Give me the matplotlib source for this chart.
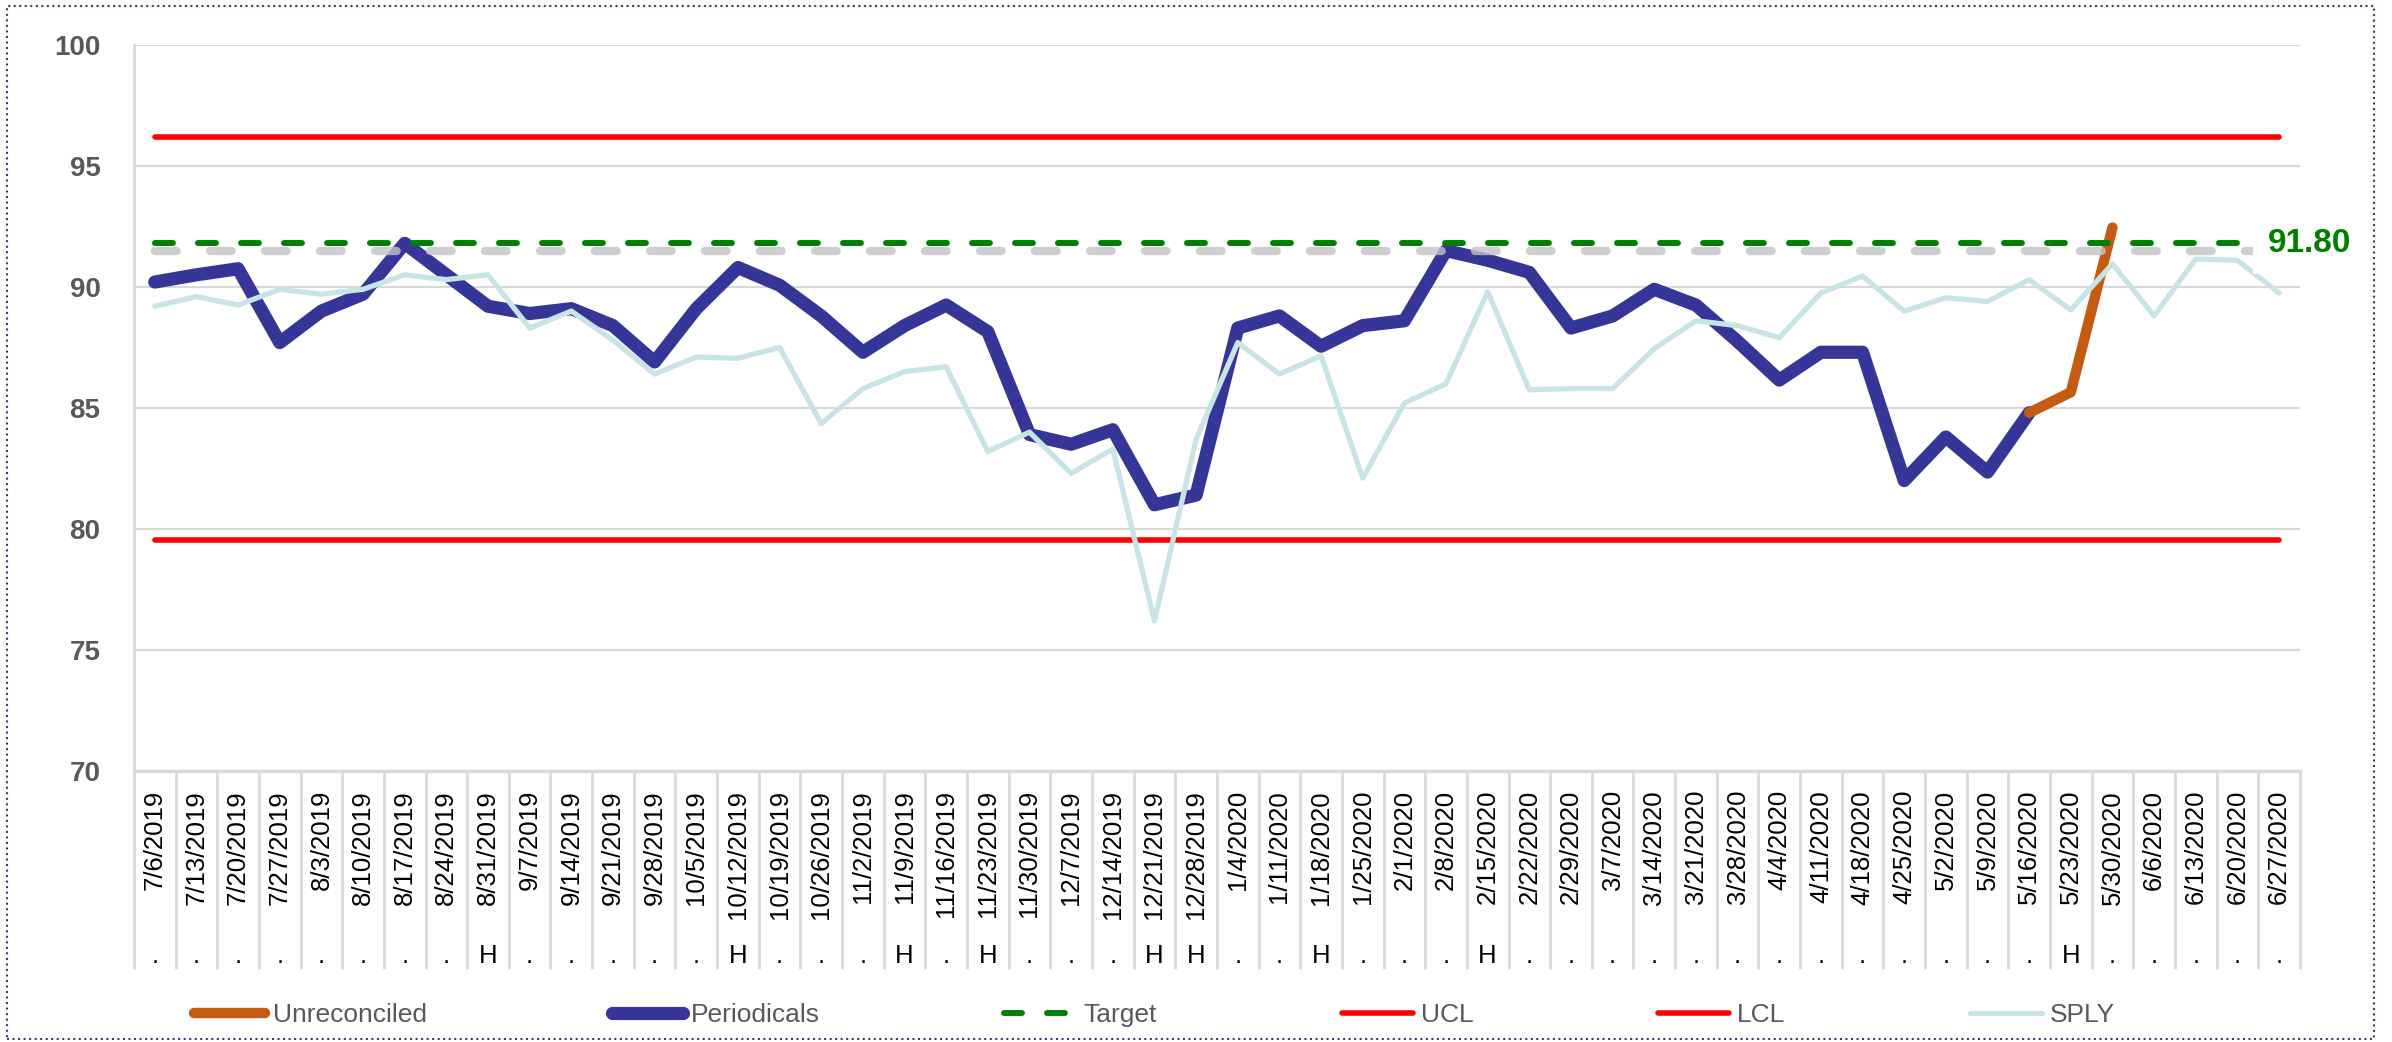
import matplotlib.pyplot as plt
import numpy as np
from matplotlib import transforms
from matplotlib.patches import Rectangle

weeks = ['7/6/2019', '7/13/2019', '7/20/2019', '7/27/2019', '8/3/2019', '8/10/2019',
         '8/17/2019', '8/24/2019', '8/31/2019', '9/7/2019', '9/14/2019', '9/21/2019',
         '9/28/2019', '10/5/2019', '10/12/2019', '10/19/2019', '10/26/2019', '11/2/2019',
         '11/9/2019', '11/16/2019', '11/23/2019', '11/30/2019', '12/7/2019', '12/14/2019',
         '12/21/2019', '12/28/2019', '1/4/2020', '1/11/2020', '1/18/2020', '1/25/2020',
         '2/1/2020', '2/8/2020', '2/15/2020', '2/22/2020', '2/29/2020', '3/7/2020',
         '3/14/2020', '3/21/2020', '3/28/2020', '4/4/2020', '4/11/2020', '4/18/2020',
         '4/25/2020', '5/2/2020', '5/9/2020', '5/16/2020', '5/23/2020', '5/30/2020',
         '6/6/2020', '6/13/2020', '6/20/2020', '6/27/2020']
flags = ['.', '.', '.', '.', '.', '.', '.', '.', 'H', '.', '.', '.', '.', '.', 'H', '.',
         '.', '.', 'H', '.', 'H', '.', '.', '.', 'H', 'H', '.', '.', 'H', '.', '.', '.',
         'H', '.', '.', '.', '.', '.', '.', '.', '.', '.', '.', '.', '.', '.', 'H', '.',
         '.', '.', '.', '.']

nan = np.nan
periodicals = [90.2, 90.5, 90.75, 87.7, 89.0, 89.7, 91.8, 90.5, 89.2, 88.9, 89.1, 88.4,
               86.9, 89.1, 90.8, 90.07, 88.8, 87.3, 88.4, 89.25, 88.15, 83.9, 83.5, 84.1,
               81.0, 81.4, 88.3, 88.8, 87.55, 88.4, 88.6, 91.5, 91.1, 90.6, 88.3, 88.8,
               89.9, 89.25, 87.75, 86.15, 87.3, 87.3, 82.0, 83.8, 82.35, 84.8,
               nan, nan, nan, nan, nan, nan]
unreconciled = [nan] * 45 + [84.8, 85.65, 92.45] + [nan] * 4
sply = [89.2, 89.6, 89.25, 89.9, 89.7, 89.9, 90.5, 90.3, 90.5, 88.3, 89.0, 87.8,
        86.4, 87.1, 87.05, 87.5, 84.35, 85.8, 86.5, 86.7, 83.2, 84.0, 82.3, 83.3,
        76.2, 83.7, 87.7, 86.4, 87.15, 82.1, 85.2, 86.0, 89.8, 85.75, 85.8, 85.8,
        87.45, 88.6, 88.4, 87.9, 89.75, 90.45, 89.0, 89.55, 89.4, 90.3, 89.05, 90.95,
        88.8, 91.15, 91.1, 89.75]
target_value = 91.8
ucl_value = 96.2
lcl_value = 79.55

x = np.arange(len(weeks))
target = np.full(len(weeks), target_value)
ucl = np.full(len(weeks), ucl_value)
lcl = np.full(len(weeks), lcl_value)

fig = plt.figure(figsize=(23.92, 10.42), dpi=100)
ax = fig.add_axes([0.056, 0.260, 0.9055, 0.697])

l_per, = ax.plot(x, periodicals, color='#363699', lw=9.5, solid_joinstyle='round',
                 solid_capstyle='round', zorder=2, label='Periodicals')
l_unr, = ax.plot(x, unreconciled, color='#c55a11', lw=7.5, solid_joinstyle='round',
                 solid_capstyle='round', zorder=2.1, label='Unreconciled')

# soft shadow under the target line
shadow = transforms.offset_copy(ax.transData, fig=fig, x=0, y=-5.5, units='points')
ax.plot(x, target, color='#c4c4c4', lw=6, alpha=0.8, dashes=(2.6, 4.0),
        dash_capstyle='round', transform=shadow, zorder=2.8)
l_tar, = ax.plot(x, target, color='#008000', lw=4.3, dashes=(3.0, 4.2),
                 dash_capstyle='round', zorder=3, label='Target')
l_ucl, = ax.plot(x, ucl, color='#ff0000', lw=4, solid_capstyle='round', zorder=3, label='UCL')
l_lcl, = ax.plot(x, lcl, color='#ff0000', lw=4, solid_capstyle='round', zorder=3, label='LCL')
l_sply, = ax.plot(x, sply, color='#c9e4e6', lw=3.8, solid_joinstyle='round',
                  solid_capstyle='round', zorder=4, label='SPLY')

ax.annotate(f'{target[-1]:.2f}', xy=(x[-1], target[-1]), xytext=(-8, 0),
            textcoords='offset points', ha='left', va='center', fontsize=24,
            fontweight='bold', color='#008000', family='Liberation Sans', zorder=5,
            annotation_clip=False,
            bbox=dict(boxstyle='square,pad=0.45', fc='white', ec='none'))

ax.set_xlim(-0.5, len(weeks) - 0.5)
ax.set_ylim(70, 100)
ax.set_yticks(np.arange(70, 101, 5))
ax.tick_params(axis='y', length=0, pad=24, labelsize=20, labelcolor='#595959')
for t in ax.get_yticklabels():
    t.set_fontweight('bold')
    t.set_family('Liberation Sans')
ax.set_xticks([])
ax.yaxis.grid(True, color='#d9d9d9', lw=1.5)
ax.set_axisbelow(True)
for s in ['top', 'right']:
    ax.spines[s].set_visible(False)
ax.spines['left'].set_color('#d9d9d9')
ax.spines['left'].set_linewidth(2)
ax.spines['bottom'].set_color('#d9d9d9')
ax.spines['bottom'].set_linewidth(2.5)

# two level category axis
xt = ax.get_xaxis_transform()
ax.vlines(np.arange(-0.5, len(weeks)), -0.273, 0, transform=xt, color='#d9d9d9',
          lw=2, clip_on=False)
for i, (w, f) in enumerate(zip(weeks, flags)):
    ax.text(i, -0.026, w, transform=xt, rotation=90, ha='center', va='top',
            fontsize=18.5, family='Liberation Sans', color='black')
    ax.text(i, -0.264, f, transform=xt, ha='center', va='baseline',
            fontsize=18.5, family='Liberation Sans', color='black')

fig.legend([l_unr, l_per, l_tar, l_ucl, l_lcl, l_sply],
           ['Unreconciled', 'Periodicals', 'Target', 'UCL', 'LCL', 'SPLY'],
           loc='center', bbox_to_anchor=(0.4825, 0.026), ncol=6, frameon=False,
           handlelength=2.7, handletextpad=0.3, columnspacing=7.0,
           prop={'family': 'Liberation Sans', 'size': 19}, labelcolor='#595959')

fig.patches.append(Rectangle((0.003, 0.003), 0.9896, 0.991, transform=fig.transFigure,
                             fill=False, ec='#3b3b7a', lw=1.5, ls=':'))

fig.savefig('out.png', dpi=100)
